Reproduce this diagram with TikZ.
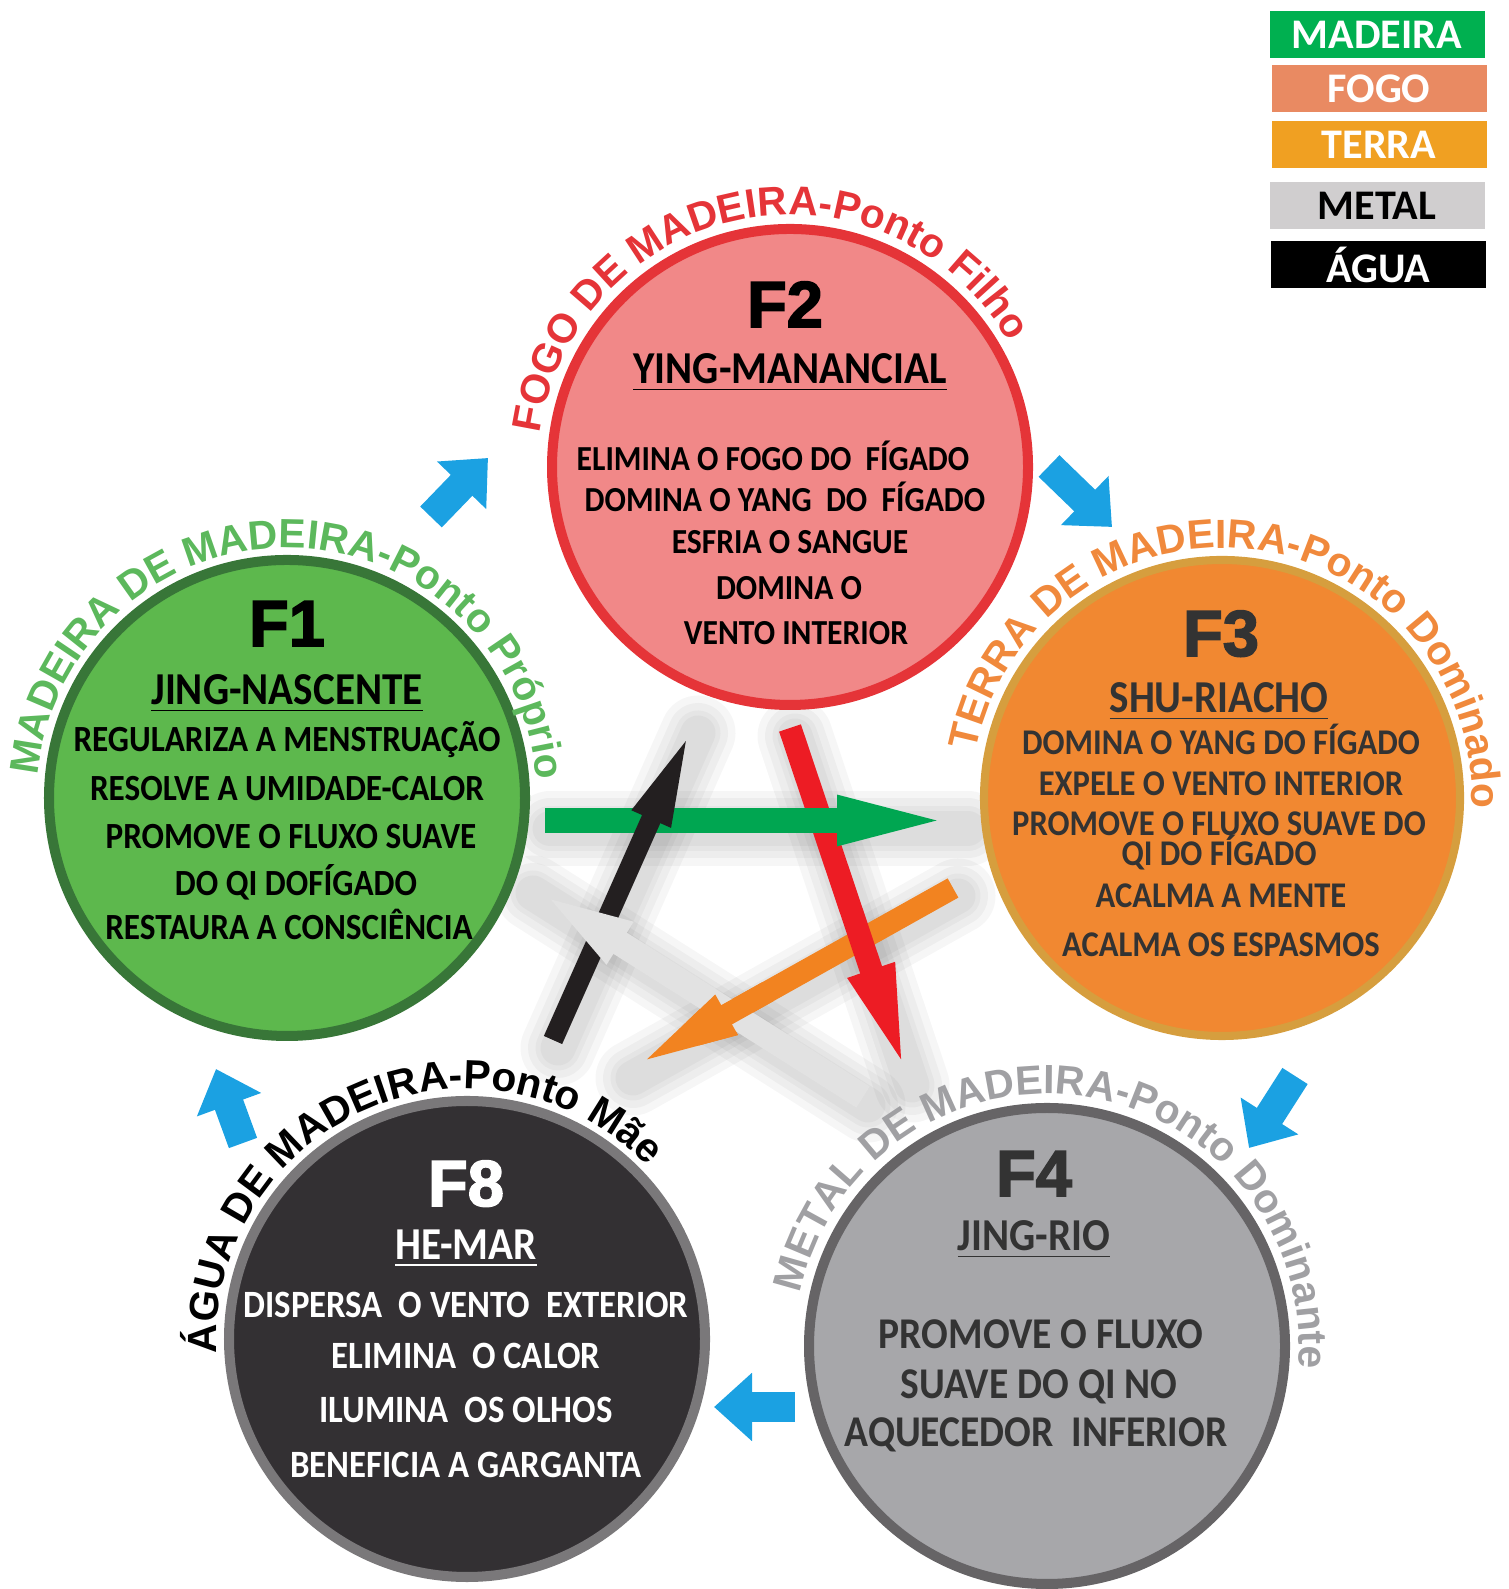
\documentclass[tikz,border=0pt]{standalone}
\usepackage{fontspec}
\setmainfont{Carlito}
\newfontfamily\bodyfont{Carlito}[FakeStretch=0.9]
\newfontfamily\arcfont{Liberation Sans}
\newfontfamily\titlefont{Liberation Sans}[BoldFeatures={FakeBold=2.5}]
\usetikzlibrary{arrows.meta,calc,decorations.text}

\definecolor{f1fill}{RGB}{93,184,77}
\definecolor{f1line}{RGB}{56,118,56}
\definecolor{f1lab}{RGB}{92,184,92}
\definecolor{f2fill}{RGB}{241,136,136}
\definecolor{f2line}{RGB}{229,52,56}
\definecolor{f3fill}{RGB}{241,136,49}
\definecolor{f3line}{RGB}{214,158,62}
\definecolor{f3lab}{RGB}{240,137,60}
\definecolor{f8fill}{RGB}{51,48,51}
\definecolor{f8line}{RGB}{122,120,122}
\definecolor{f4fill}{RGB}{167,167,170}
\definecolor{f4line}{RGB}{102,100,102}
\definecolor{f4lab}{RGB}{160,160,163}
\definecolor{txtdark}{RGB}{51,51,51}
\definecolor{flow}{RGB}{27,161,226}
\definecolor{starG}{RGB}{0,166,81}
\definecolor{starK}{RGB}{35,31,32}
\definecolor{starR}{RGB}{237,28,36}
\definecolor{starO}{RGB}{242,131,32}
\definecolor{starW}{RGB}{226,226,226}
\definecolor{legMad}{RGB}{0,176,80}
\definecolor{legFog}{RGB}{233,138,98}
\definecolor{legTer}{RGB}{240,160,34}
\definecolor{legMet}{RGB}{208,206,207}

\tikzset{
  point/.style={circle, line width=2.85pt, minimum size=4.76cm},
  ttl/.style={font=\titlefont\bfseries\fontsize{18.5}{18.5}\selectfont, anchor=base},
  sub/.style={font=\bodyfont\bfseries\fontsize{13}{13}\selectfont, anchor=base},
  body/.style={font=\bodyfont\bfseries\fontsize{#1}{#1}\selectfont, anchor=base},
  legend/.style={minimum width=2.15cm, minimum height=0.47cm, text=white,
    font=\bfseries\fontsize{12}{12}\selectfont},
  flowarrow/.style={flow, line width=0.3cm, -{Triangle[length=0.38cm, width=0.66cm]}},
  arclabel/.style 2 args={decorate, decoration={text along path, text align=center,
    text={|\arcfont\bfseries\fontsize{11.6}{11.6}\selectfont\color{#1}|#2}}}
}

\begin{document}
\begin{tikzpicture}[x=1cm, y=1cm, every node/.style={inner sep=0pt, outer sep=0pt}]
	\useasboundingbox (0,0) rectangle (15.08,15.89);

	% star of control cycle
	\coordinate (gs) at (5.45,7.685);
	\coordinate (ge) at (9.63,7.685);
	\coordinate (ks) at (5.53,5.49);
	\coordinate (ke) at (6.93,8.64);
	\coordinate (rs) at (7.90,8.61);
	\coordinate (re) at (9.07,5.12);
	\coordinate (os) at (9.53,7.01);
	\coordinate (oe) at (6.28,5.19);
	\coordinate (ws) at (8.63,4.92);
	\coordinate (we) at (5.28,7.04);
	\foreach \a/\b in {gs/ge,ks/ke,rs/re,os/oe,ws/we}
		\foreach \w in {0.75,0.6,0.45,0.35}
			\draw[black, opacity=0.035, line width=\w cm, line cap=round] ($(\a)+(0.05,-0.08)$) -- ($(\b)+(0.05,-0.08)$);
	\draw[starO, line width=0.22cm, -{Triangle[length=1.13cm, width=0.38cm]}] (os) -- (oe);
	\draw[starR, line width=0.23cm, -{Triangle[length=1.13cm, width=0.42cm]}] (rs) -- (re);
	\draw[starG, line width=0.25cm, -{Triangle[length=1.26cm, width=0.42cm]}] (gs) -- (ge);
	\draw[starK, line width=0.20cm, -{Triangle[length=1.03cm, width=0.36cm]}] (ks) -- (ke);
	\draw[starW, line width=0.25cm, -{Triangle[length=1.09cm, width=0.40cm]}] (ws) -- (we);
	\begin{scope}
		\clip (7.30,5.76) circle (0.45);
		\draw[starO, line width=0.22cm, -{Triangle[length=1.13cm, width=0.38cm]}] (os) -- (oe);
	\end{scope}

	% the five points
	\node[point, draw=f1line, fill=f1fill] (f1) at (2.87,7.91) {};
	\node[point, draw=f2line, fill=f2fill] (f2) at (7.90,11.22) {};
	\node[point, draw=f3line, fill=f3fill, line width=2.3pt] (f3) at (12.22,7.91) {};
	\node[point, draw=f8line, fill=f8fill] (f8) at (4.67,2.50) {};
	\node[point, draw=f4line, fill=f4fill] (f4) at (10.47,2.43) {};

	% names round the circles
	\path[arclabel={f1lab}{MADEIRA DE MADEIRA-Ponto Próprio}] ($(f1)+(184.5:2.5)$) arc[start angle=184.5, end angle=-5.5, radius=2.5];
	\path[arclabel={f2line}{FOGO DE MADEIRA-Ponto Filho}] ($(f2)+(196:2.52)$) arc[start angle=196, end angle=6, radius=2.52];
	\path[arclabel={f3lab}{TERRA DE MADEIRA-Ponto Dominado}] ($(f3)+(178.5:2.5)$) arc[start angle=178.5, end angle=-11.5, radius=2.5];
	\path[arclabel={black}{ÁGUA DE MADEIRA-Ponto Mãe}] ($(f8)+(208.5:2.5)$) arc[start angle=208.5, end angle=18.5, radius=2.5];
	\path[arclabel={f4lab}{METAL DE MADEIRA-Ponto Dominante}] ($(f4)+(176.5:2.52)$) arc[start angle=176.5, end angle=-13.5, radius=2.52];

	% F1
	\node[ttl] (f1t) at (2.87,9.43) {F1};
	\node[sub] (f1s) at (2.87,8.84) {\underline{JING-NASCENTE}};
	\foreach \y/\x/\t [count=\i] in {8.37/2.87/REGULARIZA A MENSTRUAÇÃO, 7.88/2.87/RESOLVE A UMIDADE-CALOR,
		7.40/2.91/PROMOVE O FLUXO SUAVE, 6.93/2.96/DO QI DOFÍGADO, 6.49/2.89/RESTAURA A CONSCIÊNCIA}
		\node[body=10.5] (f1b\i) at (\x,\y) {\t};

	% F2
	\node[ttl] (f2t) at (7.85,12.62) {F2};
	\node[sub] (f2s) at (7.90,12.05) {\underline{YING-MANANCIAL}};
	\foreach \y/\x/\t [count=\i] in {11.18/7.73/ELIMINA O FOGO DO\ \ FÍGADO, 10.77/7.85/DOMINA O YANG\ \ DO\ \ FÍGADO,
		10.35/7.90/ESFRIA O SANGUE, 9.89/7.89/DOMINA O, 9.44/7.96/VENTO INTERIOR}
		\node[body=10] (f2b\i) at (\x,\y) {\t};

	% F3
	\node[ttl, text=txtdark] (f3t) at (12.21,9.33) {F3};
	\node[sub, text=txtdark] (f3s) at (12.19,8.76) {\underline{SHU-RIACHO}};
	\foreach \y/\x/\t [count=\i] in {8.34/12.21/DOMINA O YANG DO FÍGADO, 7.93/12.21/EXPELE O VENTO INTERIOR,
		7.53/12.19/PROMOVE O FLUXO SUAVE DO, 7.23/12.19/QI DO FÍGADO, 6.81/12.21/ACALMA A MENTE, 6.32/12.21/ACALMA OS ESPASMOS}
		\node[body=10.3, text=txtdark] (f3b\i) at (\x,\y) {\t};

	% F8
	\node[ttl, text=white] (f8t) at (4.66,3.83) {F8};
	\node[sub, text=white] (f8s) at (4.66,3.29) {\underline{HE-MAR}};
	\foreach \y/\t [count=\i] in {2.71/DISPERSA\ \ O VENTO\ \ EXTERIOR, 2.20/ELIMINA\ \ O CALOR,
		1.66/ILUMINA\ \ OS OLHOS, 1.11/BENEFICIA A GARGANTA}
		\node[body=11, text=white] (f8b\i) at (4.66,\y) {\t};

	% F4
	\node[ttl, text=txtdark] (f4t) at (10.34,3.93) {F4};
	\node[sub, text=txtdark] (f4s) at (10.34,3.38) {\underline{JING-RIO}};
	\foreach \y/\x/\t [count=\i] in {2.40/10.41/PROMOVE O FLUXO, 1.90/10.39/SUAVE DO QI NO, 1.42/10.36/AQUECEDOR\ \ INFERIOR}
		\node[body=12.5, text=txtdark] (f4b\i) at (\x,\y) {\t};

	% generating cycle
	\coordinate (b1s) at (4.31,10.72);
	\coordinate (b1e) at (4.88,11.31);
	\coordinate (b2s) at (10.49,11.23);
	\coordinate (b2e) at (11.12,10.62);
	\coordinate (b3s) at (12.95,5.13);
	\coordinate (b3e) at (12.49,4.41);
	\coordinate (b4s) at (7.95,1.82);
	\coordinate (b4e) at (7.14,1.82);
	\coordinate (b5s) at (2.43,4.46);
	\coordinate (b5e) at (2.16,5.20);
	\foreach \i in {1,...,5}
		\draw[flowarrow] (b\i s) -- (b\i e);

	% legend
	\node[legend, fill=legMad] (lmad) at (13.77,15.54) {MADEIRA};
	\node[legend, fill=legFog] (lfog) at (13.79,15.00) {FOGO};
	\node[legend, fill=legTer] (lter) at (13.79,14.44) {TERRA};
	\node[legend, fill=legMet, text=black] (lmet) at (13.77,13.83) {METAL};
	\node[legend, fill=black] (lagu) at (13.78,13.24) {ÁGUA};
\end{tikzpicture}
\end{document}
